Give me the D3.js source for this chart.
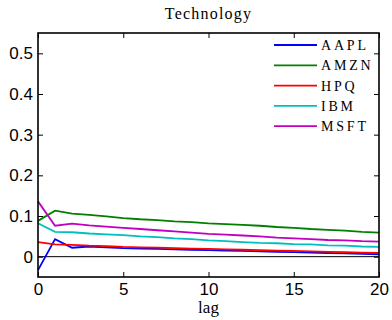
<!DOCTYPE html>
<html lang="en">
<head>
    <meta charset="UTF-8">
    <title>Technology</title>
    <script src="https://cdnjs.cloudflare.com/ajax/libs/d3/7.8.5/d3.min.js"></script>
    <style>
        body { margin: 0; background: #fff; }
    </style>
</head>
<body>
    <div id="wrapper"></div>
    <script>
        // data
        const lags = d3.range(0, 21)
        const names = ['AAPL', 'AMZN', 'HPQ', 'IBM', 'MSFT']
        const colors = ['#0000ff', '#008000', '#ff0000', '#00bfbf', '#bf00bf']
        const aapl = [-0.033, 0.043, 0.022, 0.025, 0.023, 0.021, 0.020, 0.019, 0.018, 0.017, 0.016, 0.015, 0.014, 0.013, 0.012, 0.011, 0.010, 0.009, 0.008, 0.007, 0.006]
        const amzn = [0.088, 0.113, 0.106, 0.103, 0.099, 0.095, 0.092, 0.090, 0.087, 0.085, 0.082, 0.080, 0.078, 0.076, 0.073, 0.071, 0.068, 0.066, 0.064, 0.061, 0.059]
        const hpq = [0.036, 0.030, 0.029, 0.027, 0.026, 0.024, 0.023, 0.022, 0.021, 0.020, 0.019, 0.018, 0.017, 0.016, 0.015, 0.014, 0.013, 0.012, 0.011, 0.010, 0.009]
        const ibm = [0.082, 0.061, 0.060, 0.057, 0.055, 0.053, 0.050, 0.048, 0.045, 0.043, 0.040, 0.038, 0.036, 0.034, 0.033, 0.031, 0.030, 0.028, 0.027, 0.025, 0.024]
        const msft = [0.136, 0.076, 0.081, 0.077, 0.074, 0.071, 0.068, 0.065, 0.062, 0.059, 0.056, 0.054, 0.052, 0.050, 0.047, 0.045, 0.043, 0.041, 0.040, 0.038, 0.037]
        const seriesValues = [aapl, amzn, hpq, ibm, msft]
        const xTicks = [0, 5, 10, 15, 20]
        const yTicks = [0, 0.1, 0.2, 0.3, 0.4, 0.5]

        const serif = "'Liberation Serif', 'DejaVu Serif', serif"

        const dimensions = {
            width: 392,
            height: 320,
            margin: { top: 33, right: 13, bottom: 43, left: 38 }
        }
        dimensions.boundedWidth = dimensions.width - dimensions.margin.left - dimensions.margin.right
        dimensions.boundedHeight = dimensions.height - dimensions.margin.top - dimensions.margin.bottom

        const svg = d3.select('#wrapper')
            .append('svg')
                .attr('width', dimensions.width)
                .attr('height', dimensions.height)

        const bounds = svg.append('g')
            .attr('transform', `translate(${dimensions.margin.left},${dimensions.margin.top})`)

        const xScale = d3.scaleLinear()
            .domain([0, 20])
            .range([0, dimensions.boundedWidth])

        const yScale = d3.scaleLinear()
            .domain([-0.05, 0.55])
            .range([dimensions.boundedHeight, 0])

        // zero line
        bounds.append('line')
            .attr('x1', 0)
            .attr('x2', dimensions.boundedWidth)
            .attr('y1', yScale(0))
            .attr('y2', yScale(0))
            .attr('stroke', '#000')
            .attr('stroke-width', 1)

        // series
        const lineGen = d3.line()
            .x((d, i) => xScale(lags[i]))
            .y(d => yScale(d))

        seriesValues.forEach((vals, i) => {
            bounds.append('path')
                .datum(vals)
                .attr('d', lineGen)
                .attr('fill', 'none')
                .attr('stroke', colors[i])
                .attr('stroke-width', 1.8)
        })

        // axes, ticks pointing inward on all four sides
        const tickLen = 5
        bounds.append('g')
            .attr('transform', `translate(0,${dimensions.boundedHeight})`)
            .call(d3.axisBottom(xScale).tickValues(xTicks).tickSizeInner(-tickLen).tickSizeOuter(0).tickPadding(6))
        bounds.append('g')
            .call(d3.axisTop(xScale).tickValues(xTicks).tickSizeInner(-tickLen).tickSizeOuter(0).tickFormat(''))
        bounds.append('g')
            .call(d3.axisLeft(yScale).tickValues(yTicks).tickSizeInner(-tickLen).tickSizeOuter(0).tickPadding(5)
                .tickFormat(d => d === 0 ? '0' : d3.format('.1f')(d)))
        bounds.append('g')
            .attr('transform', `translate(${dimensions.boundedWidth},0)`)
            .call(d3.axisRight(yScale).tickValues(yTicks).tickSizeInner(-tickLen).tickSizeOuter(0).tickFormat(''))

        svg.selectAll('.tick line').attr('stroke', '#000').attr('stroke-width', 1)
        svg.selectAll('.domain').remove()
        svg.selectAll('.tick text')
            .attr('fill', '#000')
            .style('font-family', "'Liberation Sans', Arial, sans-serif")
            .style('font-size', '17px')

        // frame
        bounds.append('rect')
            .attr('width', dimensions.boundedWidth)
            .attr('height', dimensions.boundedHeight)
            .attr('fill', 'none')
            .attr('stroke', '#000')
            .attr('stroke-width', 1.6)

        // title and label
        svg.append('text')
            .attr('x', dimensions.margin.left + dimensions.boundedWidth / 2)
            .attr('y', 19)
            .attr('text-anchor', 'middle')
            .attr('font-family', serif)
            .attr('font-size', 16)
            .attr('letter-spacing', 1.2)
            .text('Technology')

        svg.append('text')
            .attr('x', dimensions.margin.left + dimensions.boundedWidth / 2)
            .attr('y', 313)
            .attr('text-anchor', 'middle')
            .attr('font-family', serif)
            .attr('font-size', 17)
            .text('lag')

        // legend
        const legend = bounds.append('g')
            .attr('transform', `translate(${dimensions.boundedWidth - 105},12)`)
        names.forEach((name, i) => {
            const row = legend.append('g').attr('transform', `translate(0,${i * 20.3})`)
            row.append('line')
                .attr('x1', 0).attr('x2', 43)
                .attr('stroke', colors[i])
                .attr('stroke-width', 1.8)
            row.append('text')
                .attr('x', 47)
                .attr('dy', '0.35em')
                .attr('font-family', serif)
                .attr('font-size', 14)
                .attr('letter-spacing', 2.8)
                .text(name)
        })
    </script>
</body>
</html>
